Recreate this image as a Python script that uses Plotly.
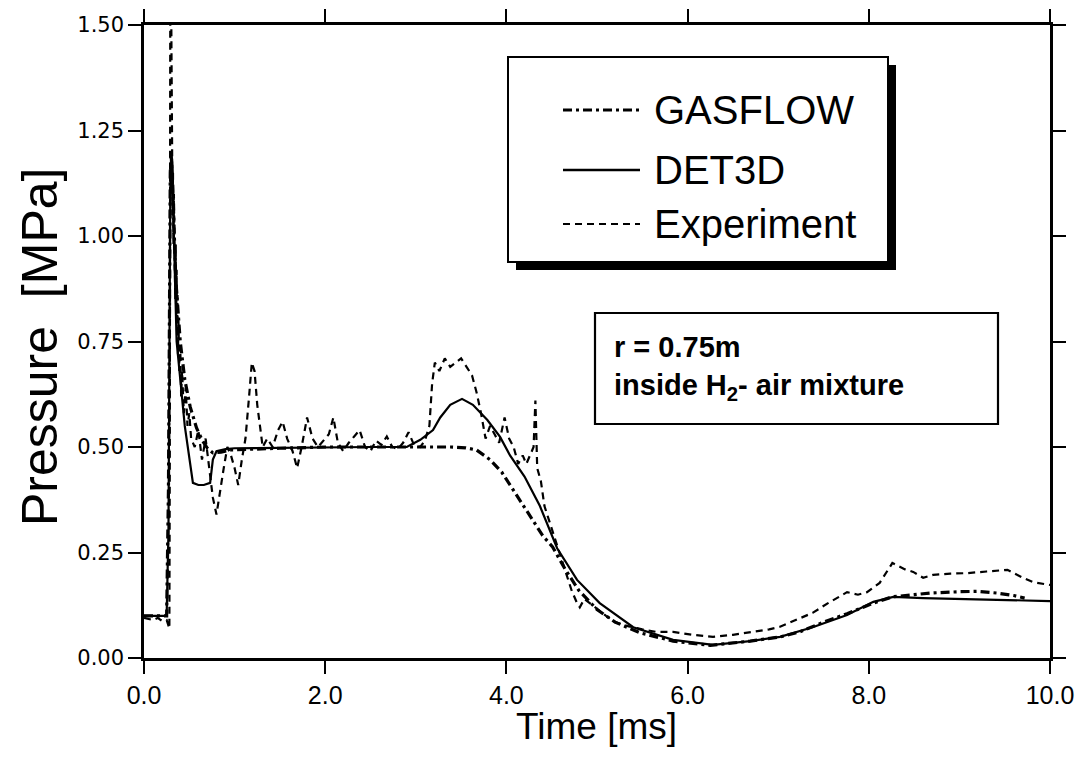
import plotly.graph_objects as go

# ---------------- data ----------------
exp_t = [0.0, 0.05, 0.1, 0.15, 0.2, 0.25, 0.28, 0.285, 0.29, 0.30, 0.305, 0.31, 0.315, 0.32, 0.325,
         0.33, 0.335, 0.34, 0.345, 0.35, 0.355, 0.36, 0.365, 0.37, 0.375, 0.38, 0.39, 0.40, 0.41, 0.42,
         0.44, 0.46, 0.48, 0.50, 0.52, 0.56, 0.60, 0.64, 0.68, 0.72, 0.76, 0.80,
         0.84, 0.88, 0.92, 0.96, 1.00, 1.04, 1.08, 1.12, 1.16, 1.19, 1.22, 1.25, 1.28, 1.31, 1.36,
         1.42, 1.48, 1.53, 1.58, 1.64, 1.69, 1.74, 1.80, 1.86, 1.92, 1.98, 2.04, 2.09, 2.14, 2.20,
         2.26, 2.32, 2.38, 2.44, 2.50, 2.56, 2.62, 2.68, 2.74, 2.80, 2.86, 2.92, 2.98, 3.05, 3.10,
         3.15, 3.18, 3.21, 3.26, 3.32, 3.38, 3.44, 3.50, 3.56, 3.62, 3.67, 3.72, 3.77, 3.82, 3.87,
         3.92, 3.98, 4.03, 4.08, 4.13, 4.18, 4.22, 4.26, 4.30, 4.32, 4.34, 4.38, 4.42, 4.48, 4.54,
         4.60, 4.66, 4.72, 4.78, 4.81, 4.86, 4.92, 5.00, 5.10, 5.20, 5.35, 5.50, 5.65, 5.84, 6.05,
         6.28, 6.50, 6.72, 6.90, 7.02, 7.20, 7.38, 7.55, 7.76, 7.88, 7.98, 8.12, 8.26, 8.40, 8.49,
         8.60, 8.71, 8.90, 9.08, 9.30, 9.53, 9.70, 9.81, 10.0]
exp_p = [0.095, 0.092, 0.090, 0.095, 0.088, 0.090, 0.070, 0.50, 1.55, 1.55, 1.30, 1.20, 1.05, 1.15, 0.98,
         1.10, 0.92, 1.02, 0.85, 0.98, 0.80, 0.92, 0.76, 0.86, 0.72, 0.80, 0.68, 0.74, 0.62, 0.68,
         0.58, 0.64, 0.55, 0.58, 0.52, 0.50, 0.54, 0.47, 0.52, 0.45, 0.38, 0.34,
         0.40, 0.45, 0.50, 0.48, 0.45, 0.41, 0.47, 0.52, 0.62, 0.70, 0.68, 0.60, 0.55, 0.50, 0.52,
         0.50, 0.54, 0.56, 0.52, 0.49, 0.45, 0.50, 0.57, 0.52, 0.50, 0.515, 0.53, 0.57, 0.51, 0.49,
         0.51, 0.525, 0.54, 0.50, 0.49, 0.515, 0.505, 0.525, 0.50, 0.495, 0.51, 0.535, 0.505, 0.50, 0.515,
         0.55, 0.65, 0.70, 0.68, 0.71, 0.69, 0.70, 0.71, 0.69, 0.67, 0.63, 0.58, 0.52, 0.55, 0.53,
         0.51, 0.57, 0.52, 0.50, 0.46, 0.48, 0.46, 0.48, 0.50, 0.61, 0.45, 0.42, 0.36, 0.32, 0.28,
         0.24, 0.20, 0.16, 0.13, 0.12, 0.14, 0.13, 0.115, 0.10, 0.085, 0.075, 0.068, 0.062, 0.062, 0.055,
         0.050, 0.055, 0.062, 0.068, 0.074, 0.090, 0.107, 0.130, 0.156, 0.150, 0.156, 0.178, 0.225, 0.210, 0.204,
         0.190, 0.197, 0.200, 0.201, 0.205, 0.209, 0.190, 0.180, 0.173]

det_t = [0.0, 0.25, 0.27, 0.28, 0.29, 0.30, 0.31, 0.33, 0.36, 0.45, 0.54, 0.60, 0.66, 0.73, 0.76,
         0.80, 0.90, 1.00, 1.50, 2.00, 2.50, 2.90, 3.05, 3.19, 3.27, 3.38, 3.51, 3.63, 3.79, 3.93,
         4.04, 4.20, 4.37, 4.56, 4.78, 5.03, 5.40, 5.84, 6.28, 6.69, 7.02, 7.38, 7.76, 8.05, 8.27,
         8.60, 9.00, 9.50, 10.0]
det_p = [0.10, 0.10, 0.30, 0.80, 1.10, 1.20, 1.18, 1.00, 0.75, 0.55, 0.415, 0.41, 0.41, 0.415, 0.47,
         0.49, 0.495, 0.497, 0.498, 0.50, 0.50, 0.50, 0.517, 0.54, 0.57, 0.60, 0.614, 0.60, 0.564, 0.524,
         0.48, 0.43, 0.36, 0.26, 0.185, 0.13, 0.073, 0.043, 0.031, 0.040, 0.050, 0.073, 0.102, 0.133, 0.145,
         0.142, 0.140, 0.138, 0.135]

gas_t = [0.0, 0.25, 0.27, 0.28, 0.29, 0.30, 0.32, 0.35, 0.40, 0.45, 0.51, 0.58, 0.64, 0.70, 0.76,
         0.85, 0.95, 1.50, 2.00, 3.00, 3.38, 3.55, 3.67, 3.82, 3.95, 4.07, 4.18, 4.29, 4.40, 4.51,
         4.65, 4.80, 5.00, 5.20, 5.47, 5.84, 6.25, 6.69, 7.02, 7.24, 7.50, 7.76, 8.05, 8.26, 8.50,
         8.68, 9.00, 9.20, 9.41, 9.60, 9.72]
gas_p = [0.10, 0.10, 0.40, 0.90, 1.15, 1.20, 1.10, 0.90, 0.75, 0.66, 0.595, 0.545, 0.517, 0.497, 0.486,
         0.488, 0.493, 0.497, 0.50, 0.50, 0.50, 0.498, 0.493, 0.47, 0.44, 0.40, 0.365, 0.327, 0.29, 0.263,
         0.21, 0.16, 0.115, 0.085, 0.060, 0.040, 0.030, 0.040, 0.050, 0.062, 0.085, 0.105, 0.130, 0.145, 0.150,
         0.154, 0.157, 0.158, 0.154, 0.148, 0.142]

x_ticks = [0, 2, 4, 6, 8, 10]
y_ticks = [0.0, 0.25, 0.5, 0.75, 1.0, 1.25, 1.5]
legend_names = ["GASFLOW", "DET3D", "Experiment"]
note_lines = ["r = 0.75m", "inside H<sub>2</sub>- air mixture"]
x_title = "Time [ms]"
y_title = "Pressure  [MPa]"

# ---------------- figure ----------------
OFF = 8                       # the page body margin shifts the figure by 8 px
W, H = 1091 - OFF, 758 - OFF
L, R, T, B = 144 - OFF, 41, 25 - OFF, 100
PW, PH = W - L - R, H - T - B


def px(xpix):
    """screen pixel x -> paper fraction"""
    return (xpix - OFF - L) / PW


def py(ypix):
    """screen pixel y -> paper fraction"""
    return (H - B - (ypix - OFF)) / PH


fig = go.Figure()
fig.add_trace(go.Scatter(x=gas_t, y=gas_p, mode="lines", name=legend_names[0],
                         line=dict(color="black", width=3.2, dash="9px,4px,3px,4px")))
fig.add_trace(go.Scatter(x=det_t, y=det_p, mode="lines", name=legend_names[1],
                         line=dict(color="black", width=2.2)))
fig.add_trace(go.Scatter(x=exp_t, y=exp_p, mode="lines", name=legend_names[2],
                         line=dict(color="black", width=2.2, dash="7px,5px")))

shapes = []
# legend box with shadow
shapes.append(dict(type="rect", xref="paper", yref="paper", x0=px(516), x1=px(896), y0=py(270), y1=py(65),
                   fillcolor="black", line=dict(width=0)))
shapes.append(dict(type="rect", xref="paper", yref="paper", x0=px(508), x1=px(888), y0=py(262), y1=py(57),
                   fillcolor="white", line=dict(color="black", width=2)))
dash_styles = [("9px,4px,3px,4px", 3.0), ("solid", 2.4), ("7px,5px", 2.2)]
ly = [110, 170, 224]
for (d, w), yy in zip(dash_styles, ly):
    shapes.append(dict(type="line", xref="paper", yref="paper", x0=px(563), x1=px(640), y0=py(yy), y1=py(yy),
                       line=dict(color="black", width=w, dash=d)))
# note box
shapes.append(dict(type="rect", xref="paper", yref="paper", x0=px(595), x1=px(998), y0=py(424), y1=py(313),
                   fillcolor="white", line=dict(color="black", width=2.2)))

annotations = []
for name, yy in zip(legend_names, ly):
    annotations.append(dict(xref="paper", yref="paper", x=px(652), y=py(yy), text=name, showarrow=False,
                            xanchor="left", yanchor="middle",
                            font=dict(family="Liberation Sans, Arial", size=40, color="black")))
annotations.append(dict(xref="paper", yref="paper", x=px(612), y=py(368), text="<br>".join(note_lines),
                        showarrow=False, xanchor="left", yanchor="middle", align="left",
                        font=dict(family="Liberation Sans, Arial", size=29, color="black", weight="bold")))
# axis titles
annotations.append(dict(xref="paper", yref="paper", x=px(596), y=py(726), text=x_title, showarrow=False,
                        xanchor="center", yanchor="middle",
                        font=dict(family="Liberation Sans, Arial", size=37, color="black")))
annotations.append(dict(xref="paper", yref="paper", x=px(40), y=py(347), text=y_title, showarrow=False,
                        xanchor="center", yanchor="middle", textangle=-90,
                        font=dict(family="Liberation Sans, Arial", size=50, color="black")))

fig.update_layout(
    width=W, height=H,
    margin=dict(l=L, r=R, t=T, b=B, pad=0, autoexpand=False),
    paper_bgcolor="white", plot_bgcolor="white",
    showlegend=False,
    shapes=shapes, annotations=annotations,
    xaxis=dict(range=[0, 10], tickvals=x_ticks, ticktext=[f"{v:.1f}" for v in x_ticks], automargin=False,
               showgrid=False, zeroline=False, showline=True, linecolor="black", linewidth=2.5,
               mirror="ticks", ticks="outside", ticklen=13, tickwidth=1.5, tickcolor="black",
               tickfont=dict(family="Liberation Sans, Arial", size=25, color="black")),
    yaxis=dict(range=[0, 1.5], tickvals=y_ticks, ticktext=[f"{v:.2f}" for v in y_ticks], automargin=False,
               showgrid=False, zeroline=False, showline=True, linecolor="black", linewidth=2.5,
               mirror="ticks", ticks="outside", ticklen=13, tickwidth=1.5, tickcolor="black",
               tickfont=dict(family="DejaVu Sans", size=21, color="black")),
)

fig.write_html("out.html")
